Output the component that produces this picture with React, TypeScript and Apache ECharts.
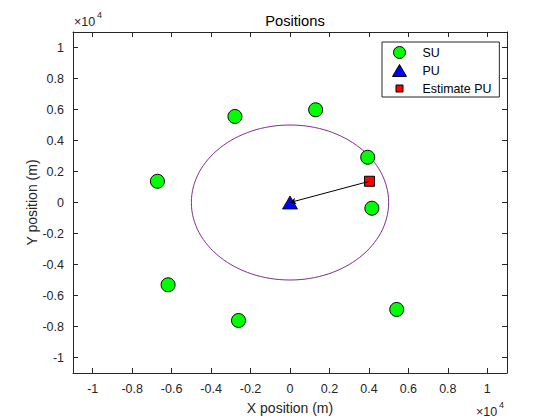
import React, { useEffect, useRef } from "react";
import * as echarts from "echarts";

// SU positions (m)
const suX = [-2790, 1300, 3940, -6720, 4150, -6180, -2610, 5410];
const suY = [5550, 5980, 2920, 1370, -370, -5310, -7610, -6900];
// PU true position and estimate (m)
const puPos = [0, 0];
const estPos = [4030, 1370];
// detection radius (m)
const radius = 5000;
// tick values (m)
const tickValues = [-10000, -8000, -6000, -4000, -2000, 0, 2000, 4000, 6000, 8000, 10000];
const axisMin = -11000;
const axisMax = 11000;

const FONT = "'Liberation Sans', Arial, Helvetica, sans-serif";
const AX = "#262626";

export default function App() {
  const ref = useRef<HTMLDivElement>(null);
  useEffect(() => {
    if (!ref.current) return;
    const chart = echarts.init(ref.current, undefined, { renderer: "svg" });
    const fmt = (v: number) => String(Math.round(v / 1000) / 10);
    const mkAxis = (pos: string, isX: boolean, showLabels: boolean, name?: string) => ({
      type: "value",
      position: pos,
      min: axisMin,
      max: axisMax,
      name: name,
      nameLocation: "middle",
      nameGap: isX ? 28 : 34,
      nameMoveOverlap: false,
      nameTextStyle: { fontFamily: FONT, fontSize: 14, color: AX },
      axisLine: { show: true, onZero: false, lineStyle: { color: AX, width: 1 } },
      axisTick: { show: true, inside: true, length: 5, customValues: tickValues, lineStyle: { color: AX } },
      axisLabel: {
        show: showLabels,
        customValues: tickValues,
        formatter: fmt,
        fontFamily: FONT,
        fontSize: 12.5,
        color: AX,
        margin: 9,
      },
      splitLine: { show: false },
    });
    const suData = suX.map((x, i) => [x, suY[i]]);
    chart.setOption({
      animation: false,
      backgroundColor: "#fff",
      title: {
        text: "Positions",
        left: 290,
        textAlign: "center",
        top: 8,
        textStyle: { fontFamily: FONT, fontSize: 14.7, fontWeight: "normal", color: "#000" },
      },
      grid: { left: 73, top: 32, right: 53, bottom: 47 },
      xAxis: [mkAxis("bottom", true, true, "X position (m)"), mkAxis("top", true, false)],
      yAxis: [mkAxis("left", false, true, "Y position (m)"), mkAxis("right", false, false)],
      legend: {
        orient: "vertical",
        left: 382,
        top: 42,
        padding: [3, 8, 1, 10],
        itemWidth: 36,
        itemHeight: 14,
        itemGap: 3,
        selectedMode: false,
        backgroundColor: "#fff",
        borderColor: AX,
        borderWidth: 1,
        borderRadius: 0,
        symbolKeepAspect: true,
        itemStyle: { borderWidth: 1, borderColor: "#000" },
        textStyle: { fontFamily: FONT, fontSize: 12.4, color: "#000" },
        data: [
          { name: "SU", icon: "path://M0,0M14,14M7,1A6,6,0,1,1,7,13A6,6,0,1,1,7,1Z" },
          { name: "PU", icon: "path://M0,0M14,14M7,1L14,13L0,13Z" },
          { name: "Estimate PU", icon: "path://M0,0M14,14M3.5,3.5L10.5,3.5L10.5,10.5L3.5,10.5Z" },
        ],
      },
      graphic: [
        { type: "text", left: 74, top: 15, style: { text: "×10", fontFamily: FONT, fontSize: 12.5, fill: AX } },
        { type: "text", left: 97, top: 10, style: { text: "4", fontFamily: FONT, fontSize: 9, fill: AX } },
        { type: "text", left: 476, top: 405, style: { text: "×10", fontFamily: FONT, fontSize: 12.5, fill: AX } },
        { type: "text", left: 499, top: 400, style: { text: "4", fontFamily: FONT, fontSize: 9, fill: AX } },
      ],
      series: [
        {
          type: "custom",
          coordinateSystem: "cartesian2d",
          silent: true,
          z: 1,
          data: [[puPos[0], puPos[1], radius]],
          renderItem: (params: any, api: any) => {
            const c = api.coord([api.value(0), api.value(1)]);
            const r = api.value(2);
            const e = api.coord([api.value(0) + r, api.value(1) + r]);
            return {
              type: "ellipse",
              shape: { cx: c[0], cy: c[1], rx: e[0] - c[0], ry: c[1] - e[1] },
              style: { fill: "none", stroke: "#7E2F8E", lineWidth: 1 },
            };
          },
        },
        {
          name: "SU",
          type: "scatter",
          symbol: "circle",
          symbolSize: 14,
          z: 3,
          itemStyle: { color: "#00ff00", borderColor: "#000", borderWidth: 1, opacity: 1 },
          data: suData,
        },
        {
          name: "PU",
          type: "scatter",
          symbol: "triangle",
          symbolSize: [15, 13],
          z: 3,
          itemStyle: { color: "#0000ff", borderColor: "#000", borderWidth: 0.8, opacity: 1 },
          data: [puPos],
        },
        {
          name: "Estimate PU",
          type: "scatter",
          symbol: "rect",
          symbolSize: 10,
          z: 4,
          itemStyle: { color: "#ff0000", borderColor: "#000", borderWidth: 1, opacity: 1 },
          data: [estPos],
          markLine: {
            silent: true,
            symbol: ["none", "arrow"],
            symbolSize: [5, 6],
            label: { show: false },
            lineStyle: { color: "#000", width: 1, type: "solid" },
            emphasis: { disabled: true },
            data: [[{ coord: estPos }, { coord: puPos }]],
          },
        },
      ],
    });
    return () => chart.dispose();
  }, []);
  return <div ref={ref} style={{ position: "fixed", left: 0, top: 0, width: 560, height: 420 }} />;
}
